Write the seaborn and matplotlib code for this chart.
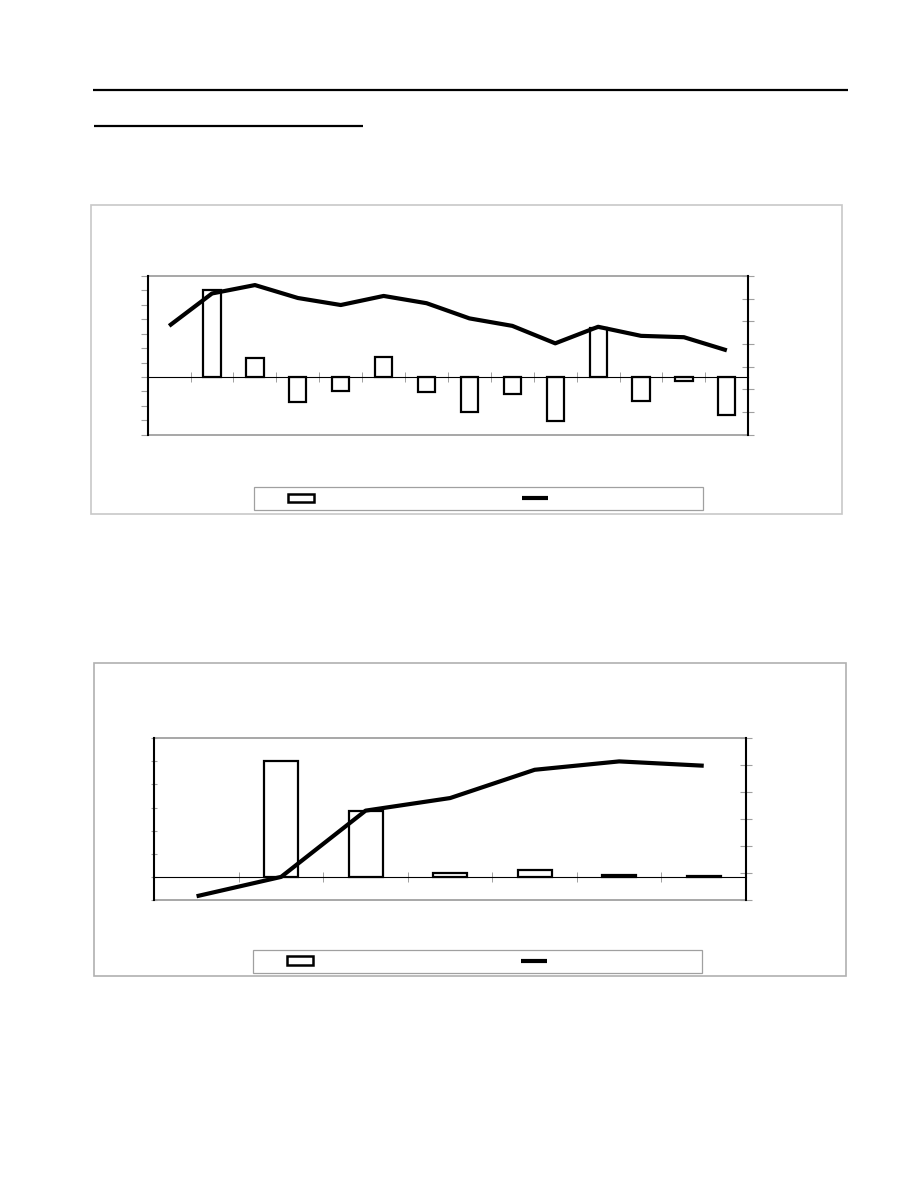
import numpy as np
import matplotlib
matplotlib.use('Agg')
import matplotlib.pyplot as plt
from matplotlib.patches import Rectangle
from matplotlib.lines import Line2D
import seaborn as sns

# chart 1: 14 periods, bars start at the second one
periods_1 = ['P1', 'P2', 'P3', 'P4', 'P5', 'P6', 'P7', 'P8', 'P9', 'P10', 'P11', 'P12', 'P13', 'P14']
bar_periods_1 = periods_1[1:]
bars_1 = [60.5, 13.0, -17.4, -10.0, 14.0, -10.2, -24.2, -12.0, -30.7, 33.7, -16.7, -2.8, -26.0]
line_1 = [48.0, 62.3, 66.0, 60.3, 57.2, 61.2, 58.0, 51.3, 48.0, 40.3, 47.6, 43.6, 43.0, 37.2]

# chart 2: 7 periods, bars start at the second one
periods_2 = ['Q1', 'Q2', 'Q3', 'Q4', 'Q5', 'Q6', 'Q7']
bar_periods_2 = periods_2[1:]
bars_2 = [50.0, 28.4, 1.7, 2.9, 0.9, 0.3]
line_2 = [-17.0, -2.7, 46.3, 55.6, 76.5, 82.7, 79.5]

W, H = 918, 1188
GRAY = '#a0a0a0'

sns.set_style('white')
plt.rcParams['font.family'] = ['DejaVu Sans']

fig = plt.figure(figsize=(W / 100, H / 100), dpi=100)

# page layer in pixel coords (rules, chart frames, legend frames)
page = fig.add_axes([0, 0, 1, 1])
page.set_xlim(0, W)
page.set_ylim(H, 0)
page.axis('off')
page.plot([93, 848], [90, 90], color='black', lw=1.6, solid_capstyle='butt')
page.plot([94, 363], [126, 126], color='black', lw=1.6, solid_capstyle='butt')
page.add_patch(Rectangle((91, 205), 751, 308.5, fill=False, ec='#c8c8c8', lw=1.2))
page.add_patch(Rectangle((93.5, 663), 752.5, 313, fill=False, ec='#b0b0b0', lw=1.2))
page.add_patch(Rectangle((254.3, 486.7), 449, 23.3, fill=False, ec=GRAY, lw=0.9))
page.add_patch(Rectangle((253, 950), 449.3, 23.3, fill=False, ec=GRAY, lw=0.9))


def px_rect(left, top, right, bottom):
    return [left / W, 1 - bottom / H, (right - left) / W, (bottom - top) / H]


def combo(rect, periods, bar_periods, bars, line, left_lim, left_step,
          right_lim, right_step, left_dir, handle_left, handle_y):
    n = len(periods)
    ax = fig.add_axes(rect)
    sns.barplot(x=bar_periods, y=bars, order=periods, ax=ax, color='white',
                edgecolor='black', linewidth=1.6, width=0.4, saturation=1)
    ax2 = ax.twinx()
    sns.lineplot(x=np.arange(n), y=line, ax=ax2, color='black', lw=3.0,
                 solid_capstyle='butt', solid_joinstyle='round')

    ax.set_xlim(-0.5, n - 0.5)
    ax.set_ylim(*left_lim)
    ax2.set_ylim(*right_lim)
    ax.set_yticks(np.arange(left_lim[0], left_lim[1] + 0.1, left_step))
    ax2.set_yticks(np.arange(right_lim[0], right_lim[1] + 0.1, right_step))
    ax.set_xticks(np.arange(0.5, n - 1, 1))
    for a in (ax, ax2):
        a.set_xticklabels([])
        a.set_yticklabels([])
        a.set_xlabel('')
        a.set_ylabel('')

    # plot area frame, axes lines
    ax.add_patch(Rectangle((0, 0), 1, 1, transform=ax.transAxes, fill=False,
                           ec=GRAY, lw=1.3, clip_on=False, zorder=0))
    ax.spines['top'].set_visible(False)
    ax.spines['right'].set_visible(False)
    ax.spines['left'].set_color('black')
    ax.spines['left'].set_linewidth(1.5)
    ax.spines['bottom'].set_position(('data', 0))
    ax.spines['bottom'].set_color('black')
    ax.spines['bottom'].set_linewidth(0.8)
    for s in ('top', 'left', 'bottom'):
        ax2.spines[s].set_visible(False)
    ax2.spines['right'].set_color('black')
    ax2.spines['right'].set_linewidth(1.5)

    ax.tick_params(axis='x', direction='inout', length=7, width=0.7, color=GRAY, bottom=True)
    ax.tick_params(axis='y', direction=left_dir, length=5, width=0.8, color=GRAY, left=True)
    ax2.tick_params(axis='y', direction='inout', length=8, width=0.8, color=GRAY, right=True)

    # legend with the series swatches only
    handles = [Rectangle((0, 0), 1, 1, fc='white', ec='black', lw=1.8),
               Line2D([], [], color='black', lw=3.0, solid_capstyle='butt')]
    fs = 10
    fpx = fs * 100 / 72
    ax2.legend(handles, ['', ''], ncol=2, frameon=False, loc='center left',
               bbox_to_anchor=(handle_left / W, 1 - handle_y / H),
               bbox_transform=fig.transFigure, fontsize=fs, borderpad=0,
               borderaxespad=0, handletextpad=0, handlelength=26 / fpx,
               handleheight=8 / fpx, columnspacing=208 / fpx)
    return ax, ax2


combo(px_rect(147.7, 276, 748.3, 434.7), periods_1, bar_periods_1, bars_1, line_1,
      (-40, 70), 10, (0, 70), 10, 'out', 287.7, 499)
combo(px_rect(154.3, 738, 746, 900.3), periods_2, bar_periods_2, bars_2, line_2,
      (-10, 60), 10, (-20, 100), 20, 'inout', 286.5, 961.5)

fig.savefig('out.png', dpi=100)
